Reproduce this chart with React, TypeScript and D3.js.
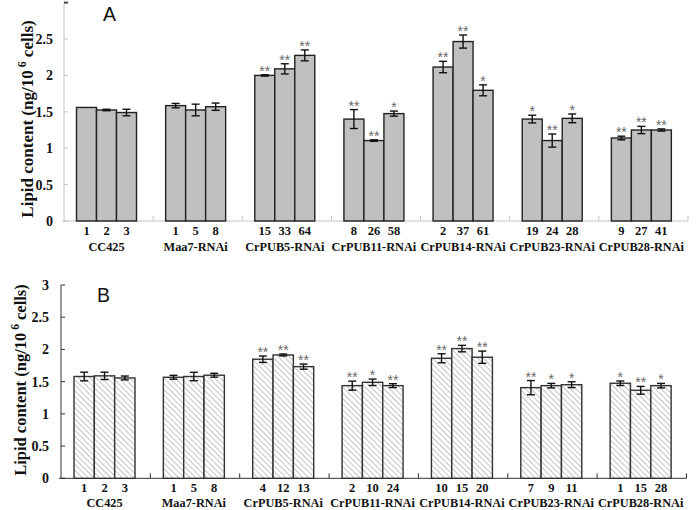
import React from "react";
import * as d3 from "d3";

const groups = ["CC425", "Maa7-RNAi", "CrPUB5-RNAi", "CrPUB11-RNAi", "CrPUB14-RNAi", "CrPUB23-RNAi", "CrPUB28-RNAi"];
const yTicks = [0, 0.5, 1, 1.5, 2, 2.5, 3];
const yTickLabels = ["0", "0.5", "1", "1.5", "2", "2.5", "3"];

const linesA = [["1", "2", "3"], ["1", "5", "8"], ["15", "33", "64"], ["8", "26", "58"], ["2", "37", "61"], ["19", "24", "28"], ["9", "27", "41"]];
const valuesA = [[1.56, 1.525, 1.49], [1.585, 1.525, 1.57], [2.0, 2.09, 2.275], [1.4, 1.105, 1.475], [2.115, 2.465, 1.795], [1.4, 1.105, 1.41], [1.14, 1.25, 1.25]];
const errorsA = [[0, 0.01, 0.045], [0.03, 0.08, 0.05], [0.01, 0.07, 0.075], [0.13, 0.01, 0.035], [0.078, 0.09, 0.075], [0.053, 0.09, 0.06], [0.025, 0.05, 0.015]];
const starsA = [["", "", ""], ["", "", ""], ["**", "**", "**"], ["**", "**", "*"], ["**", "**", "*"], ["*", "**", "*"], ["**", "**", "**"]];

const linesB = [["1", "2", "3"], ["1", "5", "8"], ["4", "12", "13"], ["2", "10", "24"], ["10", "15", "20"], ["7", "9", "11"], ["1", "15", "28"]];
const valuesB = [[1.58, 1.59, 1.557], [1.568, 1.58, 1.6], [1.848, 1.914, 1.733], [1.438, 1.49, 1.438], [1.863, 2.013, 1.879], [1.407, 1.438, 1.453], [1.475, 1.366, 1.438]];
const errorsB = [[0.067, 0.057, 0.03], [0.03, 0.065, 0.03], [0.05, 0.015, 0.04], [0.07, 0.05, 0.03], [0.07, 0.05, 0.095], [0.11, 0.035, 0.045], [0.035, 0.06, 0.035]];
const starsB = [["", "", ""], ["", "", ""], ["**", "**", "**"], ["**", "*", "**"], ["**", "**", "**"], ["**", "*", "*"], ["*", "**", "*"]];

const SERIF = "'Liberation Serif', 'Times New Roman', serif";
const SANS = "'Liberation Sans', Arial, sans-serif";

type PanelProps = {
  letter: string;
  letterX: number;
  letterY: number;
  x0: number;
  x1: number;
  yBase: number;
  yTop: number;
  innerStart: number;
  innerEnd: number;
  values: number[][];
  errors: number[][];
  stars: string[][];
  lines: string[][];
  numY: number;
  nameY: number;
  axisColor: string;
  fill: string;
  barStroke: string;
  titleX: number;
  titleY: number;
  titleSize: number;
  labelGap: number;
  showTopLabel: boolean;
};

function Panel(p: PanelProps) {
  const y = d3.scaleLinear().domain([0, 3]).range([p.yBase, p.yTop]);
  const gx = d3.scaleBand<string>().domain(groups).range([p.x0, p.x1]).padding(0);
  const inner = d3.scaleBand<number>().domain([0, 1, 2]).range([p.innerStart, p.innerEnd]).padding(0);
  const bw = inner.bandwidth();
  return (
    <g>
      {/* y axis */}
      <line x1={p.x0} x2={p.x0} y1={p.yTop} y2={p.yBase} stroke={p.axisColor} strokeWidth={1} />
      {yTicks.map((t, i) => (
        <g key={"yt" + i}>
          <line x1={p.x0} x2={p.x0 + 4} y1={y(t)} y2={y(t)} stroke={i === yTicks.length - 1 && !p.showTopLabel ? "#444" : p.axisColor} strokeWidth={i === yTicks.length - 1 && !p.showTopLabel ? 2 : 1} />
          {(p.showTopLabel || i < yTicks.length - 1) && (
            <text x={p.x0 - p.labelGap} y={y(t)} dy="0.35em" textAnchor="end" fontFamily={SERIF} fontWeight="bold" fontSize={14} fill="#111">
              {yTickLabels[i]}
            </text>
          )}
        </g>
      ))}
      {/* x axis */}
      <line x1={p.x0 - 2} x2={p.x1} y1={p.yBase} y2={p.yBase} stroke={p.axisColor} strokeWidth={1} />
      {groups.map((g, gi) => (
        <line key={"sep" + gi} x1={(gx(g) as number) + gx.bandwidth()} x2={(gx(g) as number) + gx.bandwidth()} y1={p.yBase} y2={p.yBase - 5} stroke={p.axisColor} strokeWidth={1} />
      ))}
      {/* bars */}
      {groups.map((g, gi) => (
        <g key={"g" + gi}>
          {p.values[gi].map((v, bi) => {
            const bx = (gx(g) as number) + (inner(bi) as number);
            const cx = bx + bw / 2;
            const e = p.errors[gi][bi];
            const top = y(v + e);
            const bot = y(v - e);
            return (
              <g key={"b" + bi}>
                <rect x={bx} y={y(v)} width={bw} height={p.yBase - y(v)} fill={p.fill} stroke={p.barStroke} strokeWidth={1.4} />
                {e > 0 && (
                  <g stroke="#111" strokeWidth={1.4}>
                    <line x1={cx} x2={cx} y1={top} y2={bot} />
                    <line x1={cx - 4} x2={cx + 4} y1={top} y2={top} />
                    <line x1={cx - 4} x2={cx + 4} y1={bot} y2={bot} />
                  </g>
                )}
                {p.stars[gi][bi] && (
                  <text x={cx} y={top + 1} textAnchor="middle" fontFamily={SANS} fontSize={14} fill="#6a6a6a">
                    {p.stars[gi][bi]}
                  </text>
                )}
                <text x={cx} y={p.numY} textAnchor="middle" fontFamily={SERIF} fontWeight="bold" fontSize={12.5} fill="#111">
                  {p.lines[gi][bi]}
                </text>
              </g>
            );
          })}
          <text x={(gx(g) as number) + (p.innerStart + p.innerEnd) / 2} y={p.nameY} textAnchor="middle" fontFamily={SERIF} fontWeight="bold" fontSize={12.3} fill="#111">
            {g}
          </text>
        </g>
      ))}
      {/* title */}
      <text transform={`translate(${p.titleX},${p.titleY}) rotate(-90)`} textAnchor="middle" fontFamily={SERIF} fontWeight="bold" fontSize={p.titleSize} fill="#111">
        Lipid content (ng/10
        <tspan dy={-p.titleSize * 0.4} fontSize={p.titleSize * 0.7}> 6</tspan>
        <tspan dy={p.titleSize * 0.4}> cells)</tspan>
      </text>
      <text x={p.letterX} y={p.letterY} fontFamily={SANS} fontSize={19.5} fill="#111">
        {p.letter}
      </text>
    </g>
  );
}

export default function App() {
  return (
    <svg width={700} height={510} style={{ position: "absolute", left: 0, top: 0, background: "#fff" }}>
      <defs>
        <pattern id="hatch" patternUnits="userSpaceOnUse" width={4} height={4} patternTransform="rotate(-45)">
          <rect width={4} height={4} fill="#fff" />
          <line x1={0} y1={0} x2={0} y2={4} stroke="#8a8a8a" strokeWidth={1} />
        </pattern>
      </defs>
      <Panel
        letter="A" letterX={103} letterY={21}
        x0={64} x1={688} yBase={221} yTop={2.6}
        innerStart={12.5} innerEnd={72.5}
        values={valuesA} errors={errorsA} stars={starsA} lines={linesA}
        numY={235} nameY={251}
        axisColor="#c4c4c4" fill="#c0c0c0" barStroke="#222"
        titleX={33} titleY={119} titleSize={17} labelGap={11} showTopLabel={false}
      />
      <Panel
        letter="B" letterX={97} letterY={302}
        x0={61} x1={686.5} yBase={478.3} yTop={285}
        innerStart={13} innerEnd={74}
        values={valuesB} errors={errorsB} stars={starsB} lines={linesB}
        numY={492} nameY={507}
        axisColor="#333" fill="url(#hatch)" barStroke="#333"
        titleX={26} titleY={380} titleSize={16.5} labelGap={12} showTopLabel={true}
      />
    </svg>
  );
}
